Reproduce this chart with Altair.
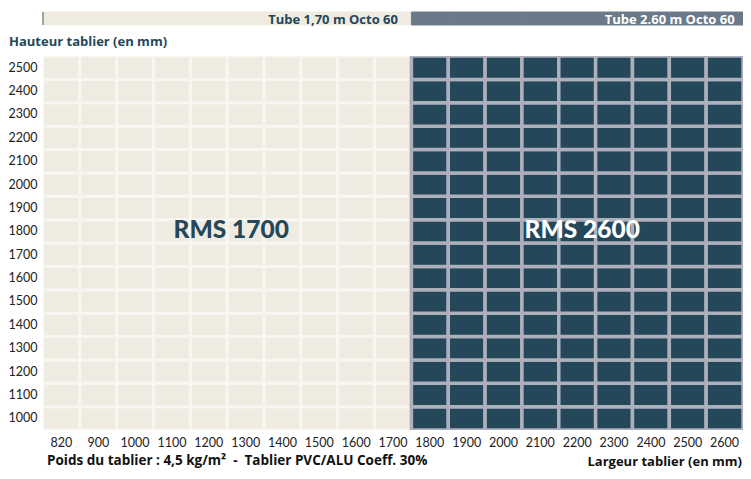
import altair as alt
import pandas as pd

# ---- data ----
largeurs = [820, 900, 1000, 1100, 1200, 1300, 1400, 1500, 1600, 1700,
            1800, 1900, 2000, 2100, 2200, 2300, 2400, 2500, 2600]
hauteurs = [1000, 1100, 1200, 1300, 1400, 1500, 1600, 1700, 1800,
            1900, 2000, 2100, 2200, 2300, 2400, 2500]
moteurs = ["RMS 1700"] * 10 + ["RMS 2600"] * 9
tubes = ["Tube 1,70 m Octo 60", "Tube 2.60 m Octo 60"]
zones = ["RMS 1700", "RMS 2600"]
titre_y = "Hauteur tablier (en mm)"
titre_x = "Largeur tablier (en mm)"
note = "Poids du tablier : 4,5 kg/m\u00b2\u00a0\u00a0-\u00a0\u00a0Tablier PVC/ALU Coeff. 30%"

cells = pd.DataFrame(
    [{"x": lx, "y": hy, "zone": z} for lx, z in zip(largeurs, moteurs) for hy in hauteurs]
)
cols = pd.DataFrame({"x": largeurs, "zone": moteurs})
hdr = pd.DataFrame({"x": [largeurs[9], largeurs[-1]], "label": tubes})
rms = pd.DataFrame({"label": zones, "x": [1300, 2200], "y": [1800, 1800]})

FONT = "Lato"
BFONT = "Open Sans"
NAVY = "#24475a"
BEIGE = "#efebe1"
LIGHT = "#f8f6f1"
GREY = "#adb0bb"
HDRGREY = "#6b7a8a"

xs = alt.Scale(paddingInner=0, paddingOuter=0)
X = alt.X("x:O", scale=xs, sort=largeurs,
          axis=alt.Axis(title=None, labelAngle=0, ticks=False, tickSize=0, domain=False,
                        labelPadding=6, labelFont=FONT, labelFontSize=12.5,
                        labelColor="#222222"))
Y = alt.Y("y:O", sort="descending", scale=alt.Scale(paddingInner=0, paddingOuter=0),
          axis=alt.Axis(title=None, ticks=False, tickSize=0, domain=False,
                        labelPadding=6, labelFont=FONT, labelFontSize=12.5,
                        labelColor="#222222"))

base = alt.Chart(cells)
beige_cells = base.transform_filter(alt.datum.zone == "RMS 1700").mark_rect(
    fill=BEIGE, stroke=LIGHT, strokeWidth=3, clip=True
).encode(x=X, y=Y)
dark_cells = base.transform_filter(alt.datum.zone == "RMS 2600").mark_rect(
    fill=NAVY, stroke=GREY, strokeWidth=3.5, clip=True
).encode(x=X, y=Y)

hdr_bars = alt.Chart(cols).mark_rect(strokeWidth=1).encode(
    x=alt.X("x:O", sort=largeurs),
    y=alt.value(-44), y2=alt.value(-31),
    fill=alt.Fill("zone:N", scale=alt.Scale(domain=zones, range=[BEIGE, HDRGREY]), legend=None),
    stroke=alt.Stroke("zone:N", scale=alt.Scale(domain=zones, range=[BEIGE, HDRGREY]), legend=None),
)
hdr_tick = alt.Chart(cols.head(1)).mark_rule(color="#555555", strokeWidth=1).encode(
    x=alt.X("x:O", sort=largeurs, bandPosition=0),
    y=alt.value(-44), y2=alt.value(-31),
)
hdr_text1 = alt.Chart(hdr.head(1)).mark_text(
    align="right", baseline="alphabetic", dx=5, font=BFONT, fontSize=13,
    fontWeight="bold", color=NAVY
).encode(x=alt.X("x:O", sort=largeurs), y=alt.value(-32), text="label:N")
hdr_text2 = alt.Chart(hdr.tail(1)).mark_text(
    align="right", baseline="alphabetic", dx=10, font=BFONT, fontSize=13,
    fontWeight="bold", color="white"
).encode(x=alt.X("x:O", sort=largeurs), y=alt.value(-32), text="label:N")

rms1 = alt.Chart(rms.head(1)).mark_text(
    align="center", baseline="middle", dx=4, font=FONT, fontSize=24.5,
    fontWeight=900, color=NAVY
).encode(x=alt.X("x:O", sort=largeurs, bandPosition=0),
         y=alt.Y("y:O", sort="descending"), text="label:N")
rms2 = alt.Chart(rms.tail(1)).mark_text(
    align="center", baseline="middle", dx=5, font=FONT, fontSize=24.5,
    fontWeight=900, color="white"
).encode(x=alt.X("x:O", sort=largeurs),
         y=alt.Y("y:O", sort="descending"), text="label:N")

ann = pd.DataFrame({"t": [titre_y, note, titre_x]})
t_y = alt.Chart(ann.iloc[[0]]).mark_text(
    align="left", baseline="middle", font=BFONT, fontSize=13, fontWeight="bold", color=NAVY
).encode(x=alt.value(-34), y=alt.value(-14), text="t:N")
t_note = alt.Chart(ann.iloc[[1]]).mark_text(
    align="left", baseline="middle", font=BFONT, fontSize=13.5, fontWeight="bold", color="#111111"
).encode(x=alt.value(4), y=alt.value(405), text="t:N")
t_x = alt.Chart(ann.iloc[[2]]).mark_text(
    align="right", baseline="middle", font=BFONT, fontSize=13, fontWeight="bold", color="#111111"
).encode(x=alt.value(699), y=alt.value(406), text="t:N")

chart = alt.layer(
    beige_cells, dark_cells, hdr_bars, hdr_tick, hdr_text1, hdr_text2,
    rms1, rms2, t_y, t_note, t_x
).properties(
    width=700, height=374,
    padding={"left": 35, "top": 48, "right": 0, "bottom": 41},
    autosize=alt.AutoSizeParams(type="none"),
    background="white",
).configure_view(stroke=None)

chart.save("out.html", embed_options={"renderer": "svg", "actions": False})
